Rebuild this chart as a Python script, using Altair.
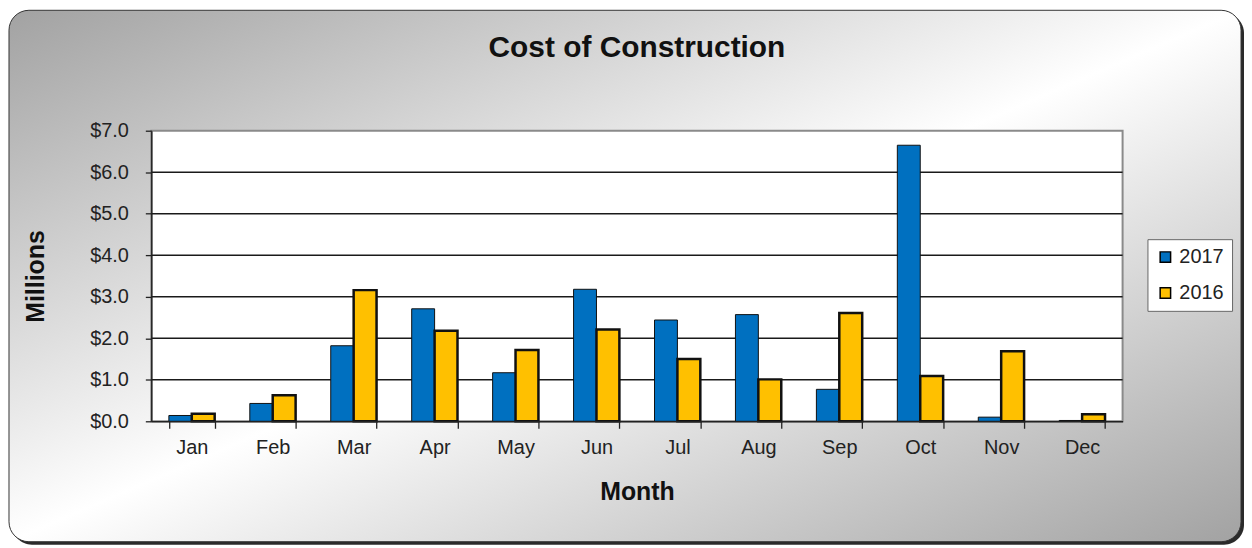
import altair as alt
import pandas as pd

months = ["Jan", "Feb", "Mar", "Apr", "May", "Jun", "Jul", "Aug", "Sep", "Oct", "Nov", "Dec"]
years = ["2017", "2016"]
cost_2017 = [0.14, 0.43, 1.82, 2.71, 1.17, 3.18, 2.44, 2.57, 0.77, 6.65, 0.10, 0.02]
cost_2016 = [0.18, 0.63, 3.16, 2.18, 1.72, 2.21, 1.50, 1.01, 2.61, 1.09, 1.69, 0.17]
grid_values = [1, 2, 3, 4, 5, 6]
y_ticks = [0, 1, 2, 3, 4, 5, 6, 7]
colors = ["#0070C0", "#FFC000"]

rows = []
for m, a, b in zip(months, cost_2017, cost_2016):
    rows.append({"Month": m, "Year": "2017", "Cost": a})
    rows.append({"Month": m, "Year": "2016", "Cost": b})
df = pd.DataFrame(rows)

W, H = 976, 292
BL, BT, BR, BB = -143, -121, 1095, 413
FONT = "Liberation Sans"

dummy = pd.DataFrame({"k": [0]})
yscale = alt.Scale(domain=[0, 7], nice=False, zero=True)


def y_axis():
    return alt.Axis(
        title="Millions", values=y_ticks, format="$.1f", grid=False, tickSize=6,
        tickColor="#222", tickWidth=1.3, domainColor="#222", domainWidth=1.5,
        labelFont=FONT, labelFontSize=20, labelColor="#222", labelPadding=17,
        titleFont=FONT, titleFontSize=25, titleFontWeight="bold", titleColor="#111",
        titlePadding=41, zindex=1,
    )


shadow = alt.Chart(dummy).mark_rect(fill="#2a2a2a", cornerRadius=20).encode(
    x=alt.value(BL + 3), x2=alt.value(BR + 3), y=alt.value(BT + 3), y2=alt.value(BB + 3)
)

grad = alt.LinearGradient(
    gradient="linear",
    stops=[
        alt.GradientStop(offset=0, color="#a2a2a2"),
        alt.GradientStop(offset=0.5, color="#ffffff"),
        alt.GradientStop(offset=1, color="#a2a2a2"),
    ],
    x1=0, y1=0, x2=1, y2=1,
)
background = alt.Chart(dummy).mark_rect(
    fill=grad, stroke="#333333", strokeWidth=1, cornerRadius=20
).encode(x=alt.value(BL), x2=alt.value(BR), y=alt.value(BT), y2=alt.value(BB))

plot_bg = alt.Chart(dummy).mark_rect(fill="white", stroke="#8a8a8a", strokeWidth=2).encode(
    x=alt.value(0), x2=alt.value(W), y=alt.value(0), y2=alt.value(H)
)

grid = alt.Chart(pd.DataFrame({"Cost": grid_values})).mark_rule(
    color="#1a1a1a", strokeWidth=1.4
).encode(y=alt.Y("Cost:Q", scale=yscale, axis=y_axis()))

bars = alt.Chart(df).mark_bar(stroke="#111111").encode(
    x=alt.X(
        "Month:N",
        sort=months,
        scale=alt.Scale(paddingInner=0.434, paddingOuter=0.217),
        axis=alt.Axis(
            title="Month", labelAngle=0, tickBand="extent", tickSize=7,
            tickColor="#222", tickWidth=1.3, domainColor="#222", domainWidth=1.5,
            labelFont=FONT, labelFontSize=20, labelColor="#222", labelPadding=9,
            titleFont=FONT, titleFontSize=25, titleFontWeight="bold", titleColor="#111",
            titlePadding=23, zindex=1,
        ),
    ),
    xOffset=alt.XOffset("Year:N", sort=years, scale=alt.Scale(paddingInner=0, paddingOuter=0)),
    y=alt.Y("Cost:Q", scale=yscale, axis=y_axis()),
    color=alt.Color(
        "Year:N",
        sort=years,
        scale=alt.Scale(domain=years, range=colors),
        legend=alt.Legend(
            title=None, orient="none", legendX=1001, legendY=109,
            symbolType="square", symbolSize=110, symbolStrokeColor="black",
            symbolStrokeWidth=1.5, labelFont=FONT, labelFontSize=20, labelColor="#222",
            labelOffset=4, fillColor="white", strokeColor="#666666", padding=8,
            rowPadding=16, cornerRadius=0,
        ),
    ),
    strokeWidth=alt.condition("datum.Year == '2016'", alt.value(2.5), alt.value(1)),
)

chart = alt.layer(shadow, background, plot_bg, grid, bars).properties(
    width=W,
    height=H,
    padding=0,
    title=alt.Title(
        "Cost of Construction", font=FONT, fontSize=30, fontWeight="bold",
        color="#111", anchor="middle", baseline="alphabetic", offset=-77, frame="group",
    ),
).configure_view(stroke=None)

chart.save("out.html", embed_options={"renderer": "svg", "actions": False})
